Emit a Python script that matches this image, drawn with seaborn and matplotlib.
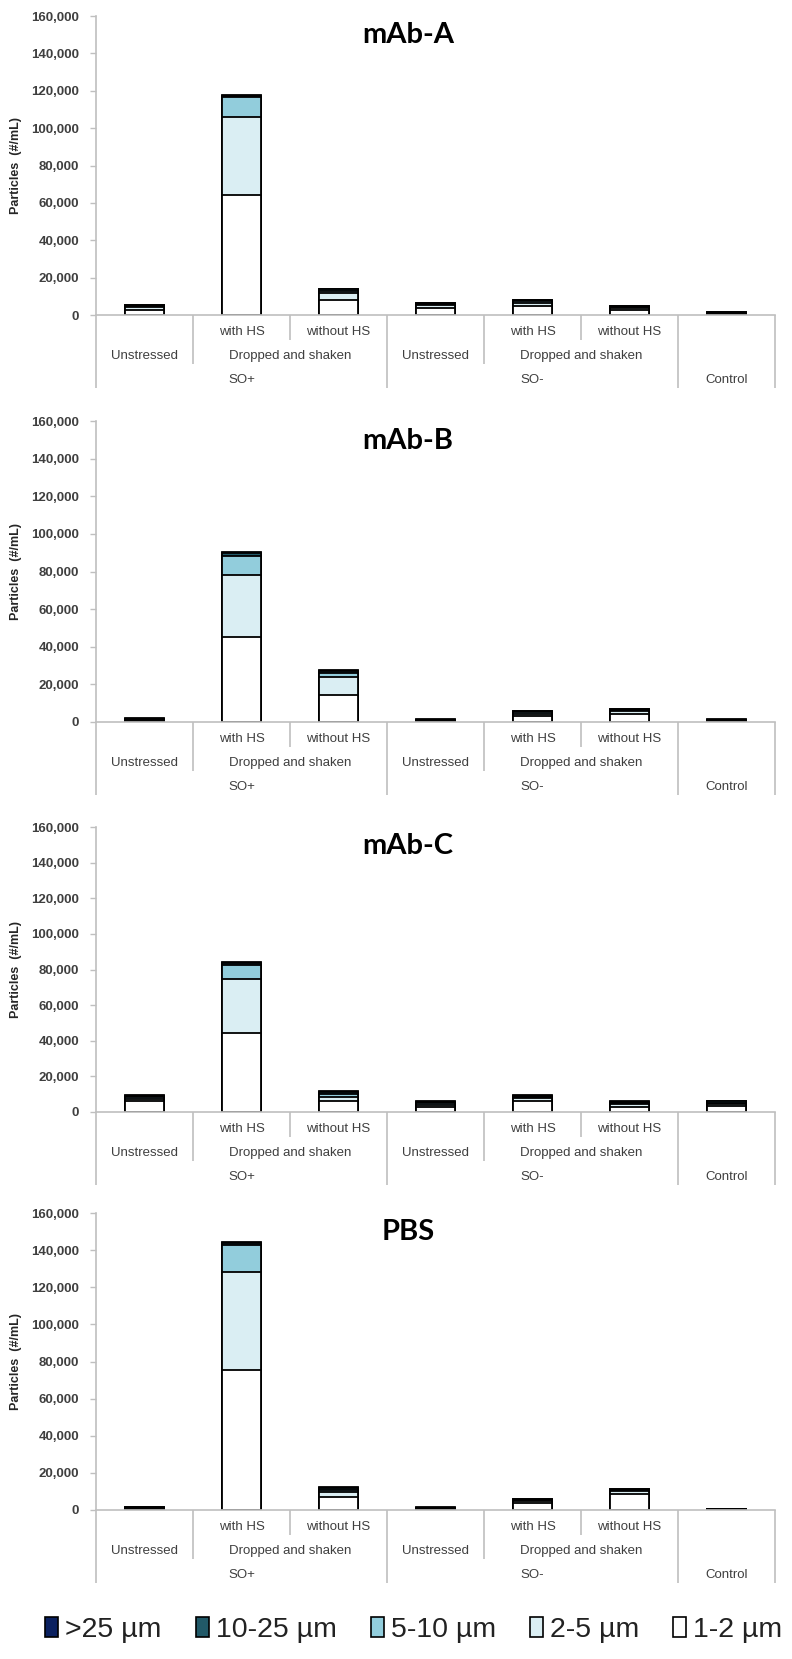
import numpy as np
import pandas as pd
import matplotlib
matplotlib.use("Agg")
import matplotlib.pyplot as plt
import seaborn as sns
from matplotlib.patches import Patch
from matplotlib.ticker import FuncFormatter

# ---------------- data ----------------
categories = ["SO+ Unstressed", "SO+ D&S with HS", "SO+ D&S without HS",
              "SO- Unstressed", "SO- D&S with HS", "SO- D&S without HS", "Control"]
row1_labels = ["", "with HS", "without HS", "", "with HS", "without HS", ""]
row2_labels = ["Unstressed", "Dropped and shaken", "Unstressed", "Dropped and shaken"]
row3_labels = ["SO+", "SO-", "Control"]

size_classes = ["1-2 µm", "2-5 µm", "5-10 µm", "10-25 µm", ">25 µm"]
size_colors = ["#FFFFFF", "#DAEEF3", "#92CDDC", "#215968", "#0B2160"]

panel_titles = ["mAb-A", "mAb-B", "mAb-C", "PBS"]

# mAb-A
a_1_2 = [2700, 64000, 7800, 3800, 4800, 2600, 600]
a_2_5 = [1600, 42000, 4000, 1500, 1700, 1000, 400]
a_5_10 = [600, 10500, 1200, 600, 800, 500, 300]
a_10_25 = [400, 700, 800, 400, 500, 500, 300]
a_gt25 = [150, 300, 300, 100, 200, 200, 200]
# mAb-B
b_1_2 = [700, 45300, 14300, 400, 3200, 4500, 400]
b_2_5 = [500, 33000, 9700, 300, 1300, 1400, 300]
b_5_10 = [300, 10200, 1800, 200, 600, 600, 200]
b_10_25 = [300, 1200, 1100, 300, 500, 400, 300]
b_gt25 = [200, 600, 500, 200, 200, 200, 200]
# mAb-C
c_1_2 = [6000, 44300, 6000, 3000, 6000, 3000, 3400]
c_2_5 = [1500, 30500, 2500, 1200, 1600, 1300, 1200]
c_5_10 = [1000, 7700, 1500, 700, 900, 700, 700]
c_10_25 = [700, 1000, 1100, 800, 700, 700, 700]
c_gt25 = [300, 500, 500, 300, 300, 300, 400]
# PBS
p_1_2 = [500, 75200, 6800, 400, 3600, 8600, 100]
p_2_5 = [400, 52800, 3000, 300, 1100, 1500, 100]
p_5_10 = [300, 14600, 1200, 200, 600, 600, 100]
p_10_25 = [400, 1000, 1100, 300, 600, 500, 100]
p_gt25 = [200, 600, 500, 200, 200, 300, 100]

panels_data = [
    [a_1_2, a_2_5, a_5_10, a_10_25, a_gt25],
    [b_1_2, b_2_5, b_5_10, b_10_25, b_gt25],
    [c_1_2, c_2_5, c_5_10, c_10_25, c_gt25],
    [p_1_2, p_2_5, p_5_10, p_10_25, p_gt25],
]

y_ticks = [0, 20000, 40000, 60000, 80000, 100000, 120000, 140000, 160000]

# ---------------- figure ----------------
sns.set_theme(style="white")
plt.rcParams["font.family"] = ["Liberation Sans", "DejaVu Sans"]

W, H = 792, 1659
fig = plt.figure(figsize=(W / 100, H / 100), dpi=100)

ax_left, ax_right = 96, 775
# (top of 160k, y of zero) in pixels for each panel
panel_px = [(16, 315), (421, 722), (827, 1112), (1213, 1510)]

grey = "#BFBFBF"
txt_grey = "#3F3F3F"

for p, (top, zero) in enumerate(panel_px):
    ax = fig.add_axes([ax_left / W, 1 - zero / H, (ax_right - ax_left) / W, (zero - top) / H])
    df = pd.DataFrame({"category": categories})
    for name, vals in zip(size_classes, panels_data[p]):
        df[name] = vals
    cum = df[size_classes].cumsum(axis=1)
    for k in range(len(size_classes) - 1, -1, -1):
        sns.barplot(x=df["category"], y=cum[size_classes[k]], order=categories,
                    color=size_colors[k], saturation=1, edgecolor="black",
                    linewidth=1.3, width=0.41, errorbar=None, ax=ax)
    ax.set_xlim(-0.5, len(categories) - 0.5)
    ax.set_ylim(0, 160000)
    ax.set_yticks(y_ticks)
    ax.yaxis.set_major_formatter(FuncFormatter(lambda v, pos: f"{int(v):,}"))
    ax.tick_params(axis="y", which="major", direction="out", length=4, width=1,
                   color=grey, labelsize=9.5, labelcolor=txt_grey, pad=8, left=True)
    for lab in ax.get_yticklabels():
        lab.set_fontweight("bold")
    ax.set_xticks([])
    ax.set_xlabel("")
    ax.set_ylabel("Particles  (#/mL)", fontsize=9, fontweight="bold", color="#262626")
    ax.yaxis.set_label_coords((22 - ax_left) / (ax_right - ax_left), 0.5)
    for s in ["top", "right"]:
        ax.spines[s].set_visible(False)
    for s in ["left", "bottom"]:
        ax.spines[s].set_color(grey)
        ax.spines[s].set_linewidth(1.2)

    ax.text((408 - ax_left) / (ax_right - ax_left), 0.935, panel_titles[p],
            transform=ax.transAxes, ha="center", va="center",
            fontsize=21, fontweight="bold", family=["Lato", "DejaVu Sans"], color="black")

    # hierarchical category axis
    h_px = zero - top
    trans = ax.get_xaxis_transform()
    def fy(px):
        return -px / h_px
    seps = [(-0.5, 73), (0.5, 49), (1.5, 25), (2.5, 73), (3.5, 49), (4.5, 25), (5.5, 73), (6.5, 73)]
    for xs, depth in seps:
        ax.plot([xs, xs], [0, fy(depth)], transform=trans, color=grey, lw=1.2,
                clip_on=False, solid_capstyle="butt")
    for i, lab in enumerate(row1_labels):
        if lab:
            ax.text(i, fy(17), lab, transform=trans, ha="center", va="center",
                    fontsize=9.5, color=txt_grey)
    for xc, lab in zip([0, 1.5, 3, 4.5], row2_labels):
        ax.text(xc, fy(41), lab, transform=trans, ha="center", va="center",
                fontsize=9.5, color=txt_grey)
    for xc, lab in zip([1, 4, 6], row3_labels):
        ax.text(xc, fy(65), lab, transform=trans, ha="center", va="center",
                fontsize=9.5, color=txt_grey)

# legend (reversed order as in reference)
handles = [Patch(facecolor=size_colors[k], edgecolor="black", linewidth=1.2)
           for k in range(len(size_classes) - 1, -1, -1)]
labels = [size_classes[k] for k in range(len(size_classes) - 1, -1, -1)]
fig.legend(handles, labels, loc="center", bbox_to_anchor=(414 / W, 1 - 1630 / H),
           ncol=5, frameon=False, fontsize=20.5, handlelength=0.45, handleheight=0.7,
           handletextpad=0.25, columnspacing=1.2, labelcolor="#222222")

fig.savefig("out.png", dpi=100)
